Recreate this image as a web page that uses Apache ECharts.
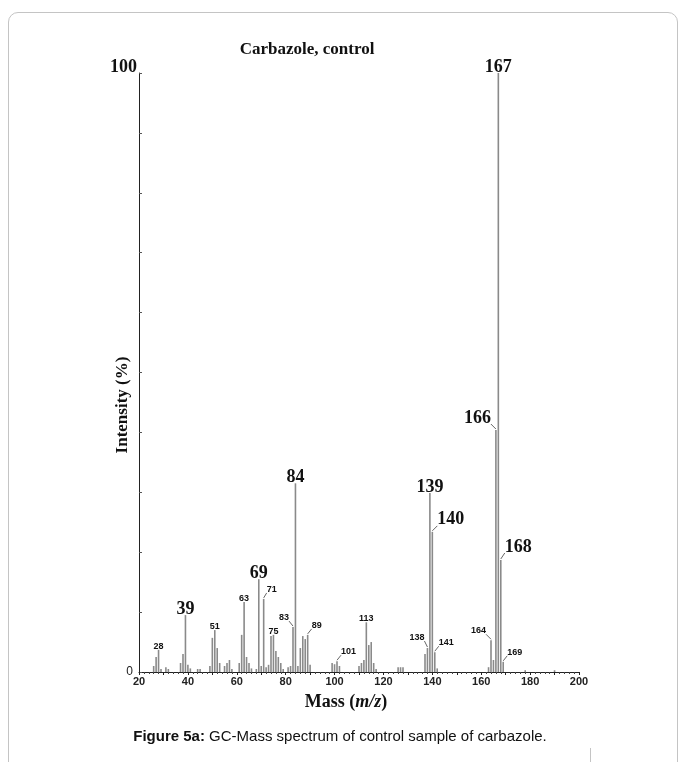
<!DOCTYPE html>
<html><head><meta charset="utf-8">
<script src="https://cdn.jsdelivr.net/npm/echarts@6/dist/echarts.min.js"></script>
<style>
html,body{margin:0;padding:0;background:#fff;}
#frame{position:absolute;left:8px;top:12px;width:670px;height:790px;border:1px solid #c4c4c4;border-radius:10px;box-sizing:border-box;}
#cell{position:absolute;left:590px;top:748px;width:1px;height:14px;background:#c4c4c4;}
#chart{position:absolute;left:0;top:0;width:685px;height:762px;}
</style></head>
<body><div id="frame"></div><div id="cell"></div><div id="chart"></div>
<script>
// ---- data ----
const masses = [26,27,28,29,31,32,37,38,39,40,41,44,45,49,50,51,52,53,55,56,57,58,61,62,63,64,65,66,68,69,70,71,72,73,74,75,76,77,78,79,81,82,83,84,85,86,87,88,89,90,99,100,101,102,110,111,112,113,114,115,116,117,126,127,128,137,138,139,140,141,142,163,164,165,166,167,168,169,178,190];
const intensities = [1.0,2.5,3.7,0.5,0.8,0.5,1.5,3.0,9.5,1.2,0.6,0.5,0.5,1.0,5.7,7.0,4.0,1.5,1.0,1.5,2.0,0.5,1.5,6.2,11.7,2.5,1.5,0.6,0.5,15.5,1.0,12.2,0.8,1.2,6.0,6.2,3.5,2.5,1.5,0.5,0.8,1.0,7.5,31.5,1.0,4.0,6.0,5.5,6.2,1.2,1.5,1.3,1.8,1.0,1.0,1.5,2.0,8.3,4.5,5.0,1.5,0.5,0.8,0.8,0.8,3.0,4.0,29.9,23.4,3.3,0.6,0.8,5.3,2.0,40.4,100,18.7,1.7,0.3,0.3];
const bigLabels = [39,69,84,139,140,166,167,168];
const smallLabels = [28,51,63,71,75,83,89,101,113,138,141,164,169];
const xTickValues = [20,40,60,80,100,120,140,160,180,200];

// ---- label leader-line styling (offsets in px, not data) ----
const leader = {
  140:{dx:5,dy:-5}, 166:{dx:-5,dy:-5}, 168:{dx:4,dy:-6},
  71:{dx:3,dy:-5}, 83:{dx:-4,dy:-5}, 89:{dx:4,dy:-5}, 101:{dx:4,dy:-5},
  138:{dx:-3,dy:-6}, 141:{dx:4,dy:-5}, 164:{dx:-5,dy:-5}, 169:{dx:4,dy:-5}
};

const valueOf = m => intensities[masses.indexOf(m)];
const labelData = bigLabels.map(m => [m, valueOf(m), 1]).concat(smallLabels.map(m => [m, valueOf(m), 0]));

const chart = echarts.init(document.getElementById('chart'), null, {renderer:'canvas'});
chart.setOption({
  animation:false,
  backgroundColor:'transparent',
  grid:{left:139, right:106, top:73, bottom:90, containLabel:false},
  xAxis:{
    type:'value', min:20, max:200, interval:10,
    axisLine:{lineStyle:{color:'#222', width:1}},
    axisTick:{show:true, length:3, lineStyle:{color:'#222'}},
    minorTick:{show:true, splitNumber:5, length:2, lineStyle:{color:'#444'}},
    splitLine:{show:false},
    axisLabel:{
      margin:4, color:'#222', fontFamily:'Liberation Sans', fontWeight:'bold', fontSize:11,
      formatter: v => xTickValues.indexOf(v) >= 0 ? String(v) : ''
    }
  },
  yAxis:{
    type:'value', min:0, max:100, interval:10,
    axisLine:{show:true, lineStyle:{color:'#222', width:1}},
    axisTick:{show:true, inside:true, length:3, lineStyle:{color:'#555'}},
    splitLine:{show:false},
    axisLabel:{
      margin:2,
      formatter: v => v === 100 ? '{b|100}' : (v === 0 ? '{s|0}' : ''),
      rich:{
        b:{fontFamily:'Liberation Serif', fontWeight:'bold', fontSize:18, color:'#111', padding:[0,0,12,0]},
        s:{fontFamily:'Liberation Sans', fontSize:12, color:'#222', padding:[0,4,0,0]}
      }
    }
  },
  series:[
    {
      type:'bar', barWidth:1.6,
      data: masses.map((m,i) => [m, intensities[i]]),
      itemStyle:{color:'#8a8a8a'},
      silent:true
    },
    {
      type:'custom', clip:false, silent:true,
      encode:{x:0, y:1},
      data: labelData,
      renderItem: function(params, api){
        const mz = api.value(0), val = api.value(1), big = api.value(2) === 1;
        const p = api.coord([mz, val]);
        const font = big ? 'bold 18px "Liberation Serif"' : 'bold 9px "Liberation Sans"';
        const children = [];
        let tx = p[0], ty = p[1] + (big ? 3 : 1), align = 'center';
        const L = leader[mz];
        if (L) {
          const x0 = p[0], y0 = p[1] - 1, x1 = x0 + L.dx, y1 = y0 + L.dy;
          children.push({type:'line', shape:{x1:x0,y1:y0,x2:x1,y2:y1}, style:{stroke:'#666', lineWidth:1}});
          tx = x1 + (L.dx > 0 ? 0 : 0);
          ty = y1 + (big ? 3 : 1);
          align = L.dx > 0 ? 'left' : 'right';
        }
        children.push({type:'text', style:{text:String(mz), x:tx, y:ty, align:align, verticalAlign:'bottom', font:font, fill:'#111'}});
        return {type:'group', children:children};
      }
    }
  ],
  graphic:[
    {type:'text', left:'center', style:{text:'Carbazole, control', x:307, y:50, align:'center', verticalAlign:'middle', font:'bold 17px "Liberation Serif"', fill:'#111'}, left:null, x:0, y:0},
    {type:'text', x:123, y:405, rotation:Math.PI/2, style:{text:'Intensity (%)', x:0, y:0, align:'center', verticalAlign:'middle', font:'bold 17px "Liberation Serif"', fill:'#111'}},
    {type:'text', x:346, y:702, style:{text:'{b|Mass (}{i|m/z}{b|)}', x:0, y:0, align:'center', verticalAlign:'middle',
      rich:{b:{font:'bold 18px "Liberation Serif"', fill:'#111'}, i:{font:'italic bold 18px "Liberation Serif"', fill:'#111'}}}},
    {type:'text', x:340, y:737, style:{text:'{b|Figure 5a:}{n| GC-Mass spectrum of control sample of carbazole.}', x:0, y:0, align:'center', verticalAlign:'middle',
      rich:{b:{font:'bold 15px "Liberation Sans"', fill:'#111'}, n:{font:'15px "Liberation Sans"', fill:'#111'}}}}
  ]
});
</script>
</body></html>
